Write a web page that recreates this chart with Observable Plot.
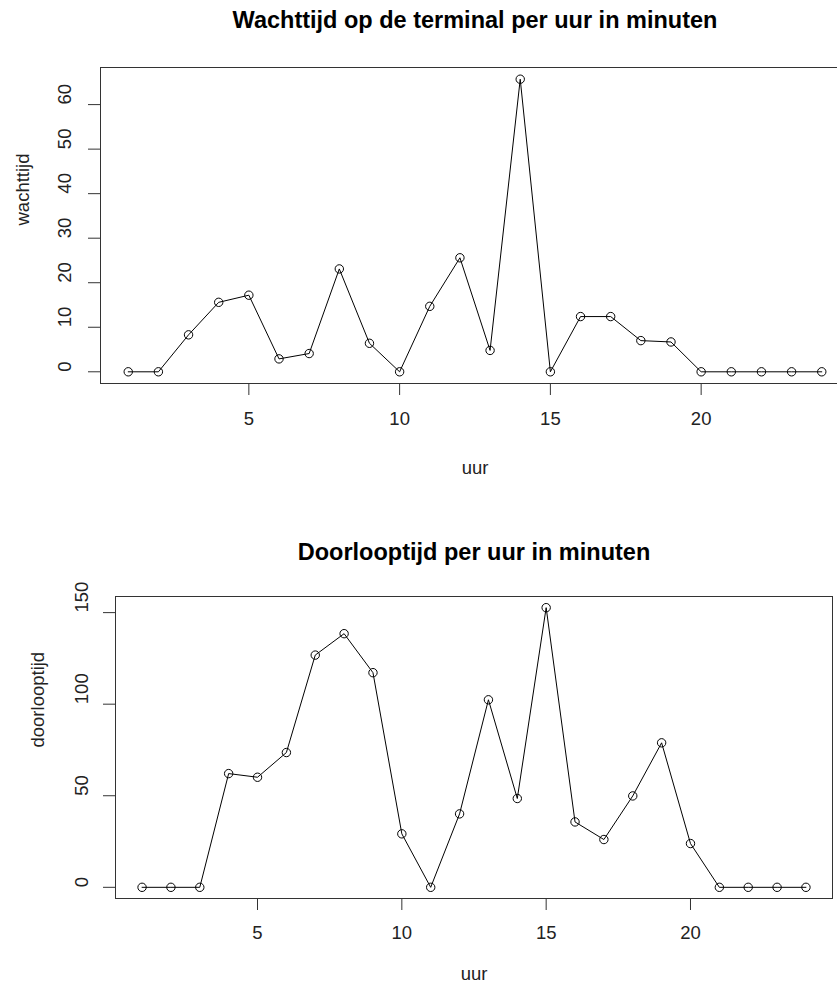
<!DOCTYPE html>
<html>
<head>
<meta charset="utf-8">
<script src="https://cdn.jsdelivr.net/npm/d3@7"></script>
<script src="https://cdn.jsdelivr.net/npm/@observablehq/plot@0.6"></script>
<style>
  html, body { margin: 0; padding: 0; background: #fff; overflow: hidden; }
  #wrap { width: 837px; height: 986px; overflow: hidden; position: relative; }
  #wrap svg { display: block; max-width: none !important; }
</style>
</head>
<body>
<div id="wrap"></div>
<script>
// ---- data ----
const uur = [1,2,3,4,5,6,7,8,9,10,11,12,13,14,15,16,17,18,19,20,21,22,23,24];
const wachttijd = [0,0,8.3,15.6,17.2,2.9,4.1,23.1,6.4,0,14.7,25.6,4.8,65.7,0,12.4,12.4,7.0,6.7,0,0,0,0,0];
const doorlooptijd = [0,0,0,62.1,60.1,73.6,126.8,138.5,117.2,29.2,0,40.1,102.4,48.5,152.7,35.7,26.1,49.9,78.9,23.9,0,0,0,0];
const xTicks = [5,10,15,20];
const yTicksTop = [0,10,20,30,40,50,60];
const yTicksBottom = [0,50,100,150];
const titleTop = "Wachttijd op de terminal per uur in minuten";
const titleBottom = "Doorlooptijd per uur in minuten";
const xLabel = "uur";
const yLabelTop = "wachttijd";
const yLabelBottom = "doorlooptijd";

const FONT = "'Liberation Sans', Arial, sans-serif";
const AX = 18.5;

function rplot({values, yTicks, title, ylab, width, height, mt, mb, ml, mr, ydom,
                 ytickDx, ylabDx, xtickDy, xlabDy, titleDy}) {
  const data = uur.map((u, i) => ({u, v: values[i]}));
  return Plot.plot({
    width, height,
    marginTop: mt, marginBottom: mb, marginLeft: ml, marginRight: mr,
    style: {fontFamily: FONT, fontSize: AX + "px", color: "#000", background: "#fff"},
    x: {domain: [0.08, 24.92]},
    y: {domain: ydom},
    marks: [
      Plot.frame({stroke: "#333", strokeWidth: 1}),
      Plot.axisX({ticks: xTicks, tickSize: 12, tickFormat: () => "", stroke: "#333", label: null}),
      Plot.axisY({ticks: yTicks, tickSize: 12, tickFormat: () => "", stroke: "#333", label: null}),
      Plot.text(xTicks, {x: d => d, frameAnchor: "bottom", dy: xtickDy, text: d => String(d),
        lineAnchor: "middle", fontSize: AX, fill: "#222"}),
      Plot.text(yTicks, {y: d => d, frameAnchor: "left", dx: ytickDx, rotate: -90, text: d => String(d),
        lineAnchor: "middle", fontSize: AX, fill: "#222"}),
      Plot.text([xLabel], {frameAnchor: "bottom", dy: xlabDy, lineAnchor: "middle", fontSize: AX, fill: "#222"}),
      Plot.text([ylab], {frameAnchor: "left", dx: ylabDx, rotate: -90, lineAnchor: "middle", fontSize: AX, fill: "#222"}),
      Plot.text([title], {frameAnchor: "top", dy: titleDy, lineAnchor: "middle", fontSize: 23.5, fontWeight: "bold", fill: "#000"}),
      Plot.line(data, {x: "u", y: "v", stroke: "#000", strokeWidth: 1}),
      Plot.dot(data, {x: "u", y: "v", r: 4.2, stroke: "#000", fill: "none", strokeWidth: 1})
    ]
  });
}

const wrap = document.getElementById("wrap");
wrap.appendChild(rplot({
  values: wachttijd, yTicks: yTicksTop, title: titleTop, ylab: yLabelTop,
  width: 850, height: 500, mt: 67, mb: 117, ml: 100, mr: 1,
  ydom: [-2.628, 68.33], ytickDx: -35, ylabDx: -77, xtickDy: 36, xlabDy: 85, titleDy: -47
}));
wrap.appendChild(rplot({
  values: doorlooptijd, yTicks: yTicksBottom, title: titleBottom, ylab: yLabelBottom,
  width: 837, height: 486, mt: 96, mb: 88, ml: 115, mr: 5,
  ydom: [-6.108, 158.8], ytickDx: -33, ylabDx: -77, xtickDy: 35, xlabDy: 76, titleDy: -44
}));
</script>
</body>
</html>
